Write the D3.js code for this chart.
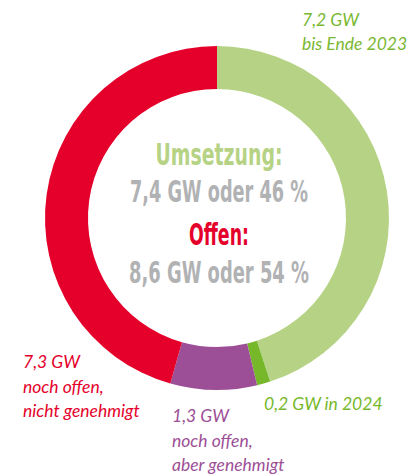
<!DOCTYPE html>
<html>
<meta charset="utf-8">
<title>Umsetzung Donut</title>
<style>
  body { margin: 0; background: #fff; }
  svg text { font-family: Lato, "Open Sans", sans-serif; }
</style>
<body>
<div id="chartContainer"></div>
<script src="https://d3js.org/d3.v7.min.js"></script>
<script type="text/javascript">
  // data
  var segments = ["bis Ende 2023", "in 2024", "noch offen, aber genehmigt", "noch offen, nicht genehmigt"];
  var gigawatt = [7.2, 0.2, 1.3, 7.3];
  var colors = ["#b6d385", "#76b82a", "#9c4f96", "#e4002b"];
  var centerLines = ["Umsetzung:", "7,4 GW oder 46 %", "Offen:", "8,6 GW oder 54 %"];
  var centerColors = ["#b6d385", "#b1b2b4", "#e4002b", "#b1b2b4"];
  var labelLines = [
    ["7,2 GW", "bis Ende 2023"],
    ["0,2 GW in 2024"],
    ["1,3 GW", "noch offen,", "aber genehmigt"],
    ["7,3 GW", "noch offen,", "nicht genehmigt"]
  ];

  var width = 414, height = 475;
  var cx = 217, cy = 218;

  var svg = d3.select("#chartContainer").append("svg")
    .attr("width", width)
    .attr("height", height);

  var pie = d3.pie().sort(null).value(function (d) { return d; });
  var arc = d3.arc().innerRadius(129).outerRadius(172);

  var g = svg.append("g").attr("transform", "translate(" + cx + "," + cy + ")");

  g.selectAll("path")
    .data(pie(gigawatt))
    .enter().append("path")
    .attr("d", arc)
    .attr("fill", function (d, i) { return colors[i]; });

  // center text, squeezed to look condensed
  var centerY = [165, 202, 245, 283];
  var centerW = [127, 178, 60, 180];
  svg.selectAll("text.center")
    .data(centerLines)
    .enter().append("text")
    .attr("class", "center")
    .attr("x", 219)
    .attr("y", function (d, i) { return centerY[i]; })
    .attr("text-anchor", "middle")
    .attr("textLength", function (d, i) { return centerW[i]; })
    .attr("lengthAdjust", "spacingAndGlyphs")
    .style("font-family", "'DejaVu Sans Condensed', 'DejaVu Sans', sans-serif")
    .style("font-weight", "bold")
    .style("font-size", "31px")
    .style("fill", function (d, i) { return centerColors[i]; })
    .text(function (d) { return d; });

  // segment labels
  var labelPos = [[302, 26], [264, 410], [172, 422], [23, 368]];
  var lineGap = [24, 24, 24.5, 24.5];
  labelLines.forEach(function (lines, i) {
    var t = svg.append("text")
      .attr("x", labelPos[i][0])
      .attr("y", labelPos[i][1])
      .style("font-style", "italic")
      .style("font-weight", "400")
      .style("font-size", "17.5px")
      .style("fill", i == 0 ? "#7ab833" : colors[i]);
    lines.forEach(function (line, j) {
      t.append("tspan")
        .attr("x", labelPos[i][0])
        .attr("dy", j == 0 ? 0 : lineGap[i])
        .text(line);
    });
  });
</script>
</body>
</html>
